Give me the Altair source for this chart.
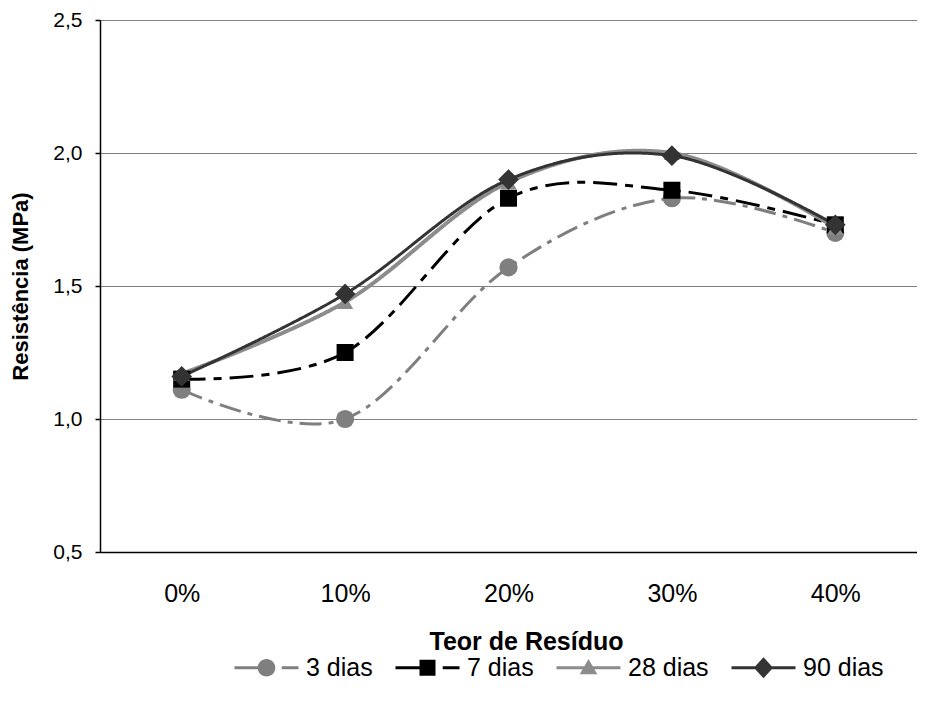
import altair as alt
import pandas as pd

categories = ["0%", "10%", "20%", "30%", "40%"]
series = ["3 dias", "7 dias", "28 dias", "90 dias"]
v3 = [1.11, 1.00, 1.57, 1.83, 1.70]
v7 = [1.15, 1.25, 1.83, 1.86, 1.73]
v28 = [1.17, 1.44, 1.89, 2.00, 1.72]
v90 = [1.16, 1.47, 1.90, 1.99, 1.73]
y_ticks = [0.5, 1.0, 1.5, 2.0, 2.5]

colors = ["#7f7f7f", "#000000", "#8c8c8c", "#333333"]
dashes = [[22, 7, 5, 7], [24, 8, 8, 8], [1, 0], [1, 0]]
widths = [3, 3, 4, 3]
shapes = ["circle", "square", "triangle-up", "diamond"]
sizes = [330, 290, 260, 430]

T = 0.19
def seg(a, b):
    return f"M{a},{-T}L{b},{-T}L{b},{T}L{a},{T}Z"
circle = "M1.1,0A1.1,1.1 0 1,1 -1.1,0A1.1,1.1 0 1,1 1.1,0Z"
square = "M-1,-1L1,-1L1,1L-1,1Z"
tri = "M0,-1.1L1.1,0.8L-1.1,0.8Z"
diam = "M0,-1.3L1.2,0L0,1.3L-1.2,0Z"
legend_paths = [
    seg(-4, -0.9) + circle + seg(1.9, 4),
    seg(-4, -0.9) + square + seg(1.9, 4),
    seg(-4, 4) + tri,
    seg(-4, 4) + diam,
]

rows = []
for s, vals in zip(series, [v3, v7, v28, v90]):
    for c, v in zip(categories, vals):
        rows.append({"Teor": c, "Serie": s, "Valor": v})
df = pd.DataFrame(rows)

FONT = "Liberation Sans"

x_enc = alt.X(
    "Teor:N", sort=categories,
    scale=alt.Scale(type="point", padding=0.5),
    axis=alt.Axis(
        title="Teor de Resíduo", labelAngle=0, ticks=False, tickSize=0,
        domainColor="black", domainWidth=1.5, grid=False,
        labelFont=FONT, labelFontSize=25, labelColor="black",
        labelBaseline="middle", labelPadding=41,
        titleFont=FONT, titleFontSize=25, titleFontWeight="bold", titleColor="black",
        titleX=426, titleY=89, titleBaseline="middle", titleAlign="center",
    ),
)
y_enc = alt.Y(
    "Valor:Q",
    scale=alt.Scale(domain=[0.5, 2.5], nice=False, zero=False),
    axis=alt.Axis(
        values=y_ticks, labelExpr="replace(format(datum.value, '.1f'), '.', ',')",
        tickSize=5, tickColor="black", tickWidth=1.5, labelPadding=13,
        domainColor="black", domainWidth=1.5,
        grid=True, gridColor="#808080", gridWidth=1,
        labelFont=FONT, labelFontSize=21, labelColor="black",
        title="Resistência (MPa)", titleFont=FONT, titleFontSize=22,
        titleFontWeight="bold", titleColor="black",
        titleX=-80, titleY=266, titleAngle=-90, titleBaseline="middle", titleAlign="center",
    ),
)

line_layers = []
point_layers = []
for s, col, dsh, w, shp, sz in zip(series, colors, dashes, widths, shapes, sizes):
    base = alt.Chart(df).transform_filter(alt.datum.Serie == s)
    line_layers.append(
        base.mark_line(interpolate="cardinal", color=col, strokeDash=dsh, strokeWidth=w).encode(x=x_enc, y=y_enc)
    )
    point_layers.append(
        base.mark_point(filled=True, opacity=1, shape=shp, size=sz, color=col, strokeWidth=0).encode(x=x_enc, y=y_enc)
    )

leg = alt.Legend(
    orient="none", legendX=154, legendY=635, direction="horizontal", title=None,
    labelFont=FONT, labelFontSize=25, labelColor="black",
    symbolSize=256, symbolStrokeWidth=0, labelOffset=27, columnPadding=22,
    symbolOpacity=1,
)
legend_layer = alt.Chart(df).mark_point(filled=True, opacity=0, size=0).encode(
    x=x_enc, y=y_enc,
    color=alt.Color("Serie:N", scale=alt.Scale(domain=series, range=colors), legend=leg),
    shape=alt.Shape("Serie:N", scale=alt.Scale(domain=series, range=legend_paths), legend=leg),
)

chart = alt.layer(*line_layers, *point_layers, legend_layer).properties(
    width=817, height=532, autosize="none",
    padding={"left": 92, "top": 12, "right": 0, "bottom": 140},
    background="white",
).configure_view(stroke=None)

chart.save("out.html", embed_options={"renderer": "svg", "actions": False})
